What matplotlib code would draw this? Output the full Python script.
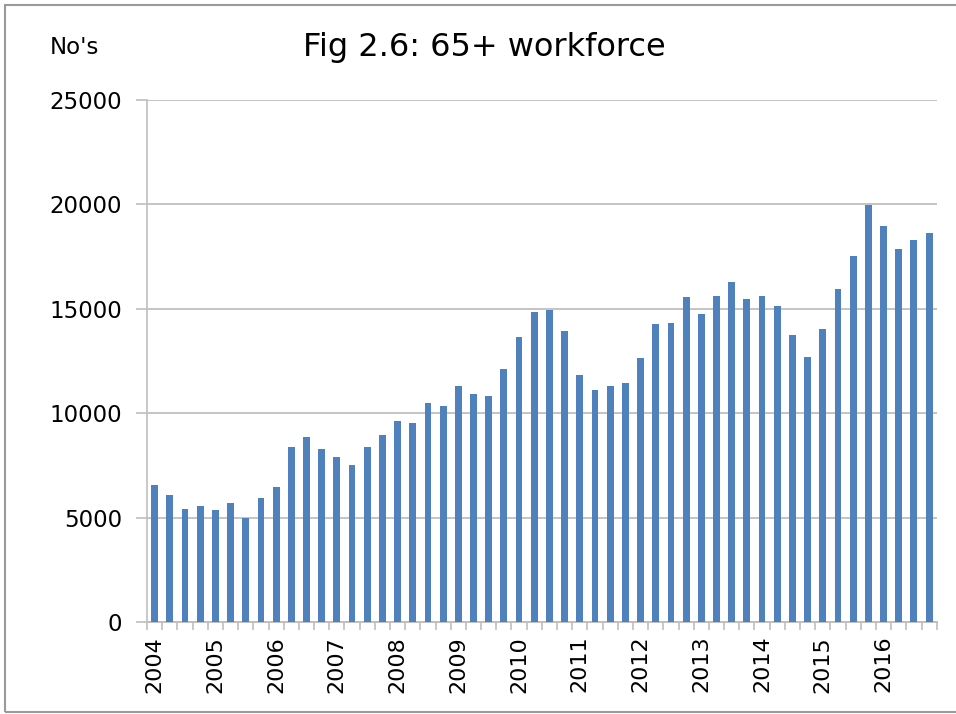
import matplotlib.pyplot as plt
from matplotlib.patches import Rectangle

# quarterly counts, 2004 Q1 .. 2016 Q4
years = [str(y) for y in range(2004, 2017)]
quarters = ['Q1', 'Q2', 'Q3', 'Q4']
workforce = [6550, 6060, 5430, 5560, 5370, 5680, 4970, 5920,
             6480, 8400, 8880, 8260, 7900, 7520, 8380, 8940,
             9640, 9540, 10490, 10340, 11280, 10920, 10800, 12120,
             13640, 14820, 14930, 13930, 11840, 11120, 11280, 11440,
             12660, 14250, 14310, 15580, 14760, 15630, 16280, 15470,
             15630, 15110, 13720, 12680, 14040, 15950, 17540, 19980,
             18980, 17860, 18290, 18630]

labels = [y + ' ' + q for y in years for q in quarters]
x = list(range(len(labels)))

fig = plt.figure(figsize=(9.56, 7.14), dpi=100)
ax = fig.add_axes([0.1538, 0.129, 0.826, 0.731])

ax.bar(x, workforce, width=0.45, color='#4f81bd', zorder=3)

ax.set_xlim(-0.5, len(x) - 0.5)
ax.set_ylim(0, 25000)
ax.set_yticks(range(0, 25001, 5000))
ax.tick_params(axis='y', labelsize=16.5, length=8, color='#bfbfbf', width=1.2, pad=10)
ax.yaxis.grid(True, color='#c4c4c4', linewidth=1.4, zorder=0)

# year labels on Q1 bars, small ticks on category boundaries
ax.set_xticks(x[::4])
ax.set_xticklabels(years, rotation=90, fontsize=16)
ax.tick_params(axis='x', length=0, pad=10)
ax.set_xticks([i - 0.5 for i in range(len(x) + 1)], minor=True)
ax.tick_params(axis='x', which='minor', length=6, color='#bfbfbf', width=1.2)

for side in ['top', 'right']:
    ax.spines[side].set_visible(False)
ax.spines['left'].set_color('#bfbfbf')
ax.spines['bottom'].set_color('#bfbfbf')
ax.spines['left'].set_linewidth(1.2)
ax.spines['bottom'].set_linewidth(1.4)

fig.text(0.052, 0.933, "No's", fontsize=16.5, va='center')
fig.text(0.507, 0.933, 'Fig 2.6: 65+ workforce', fontsize=23, ha='center', va='center')

# outer chart border
fig.patches.append(Rectangle((0.005, 0.003), 1.2, 0.99, transform=fig.transFigure,
                             fill=False, edgecolor='#9a9a9a', linewidth=1.5))

fig.savefig('out.png', dpi=100)
